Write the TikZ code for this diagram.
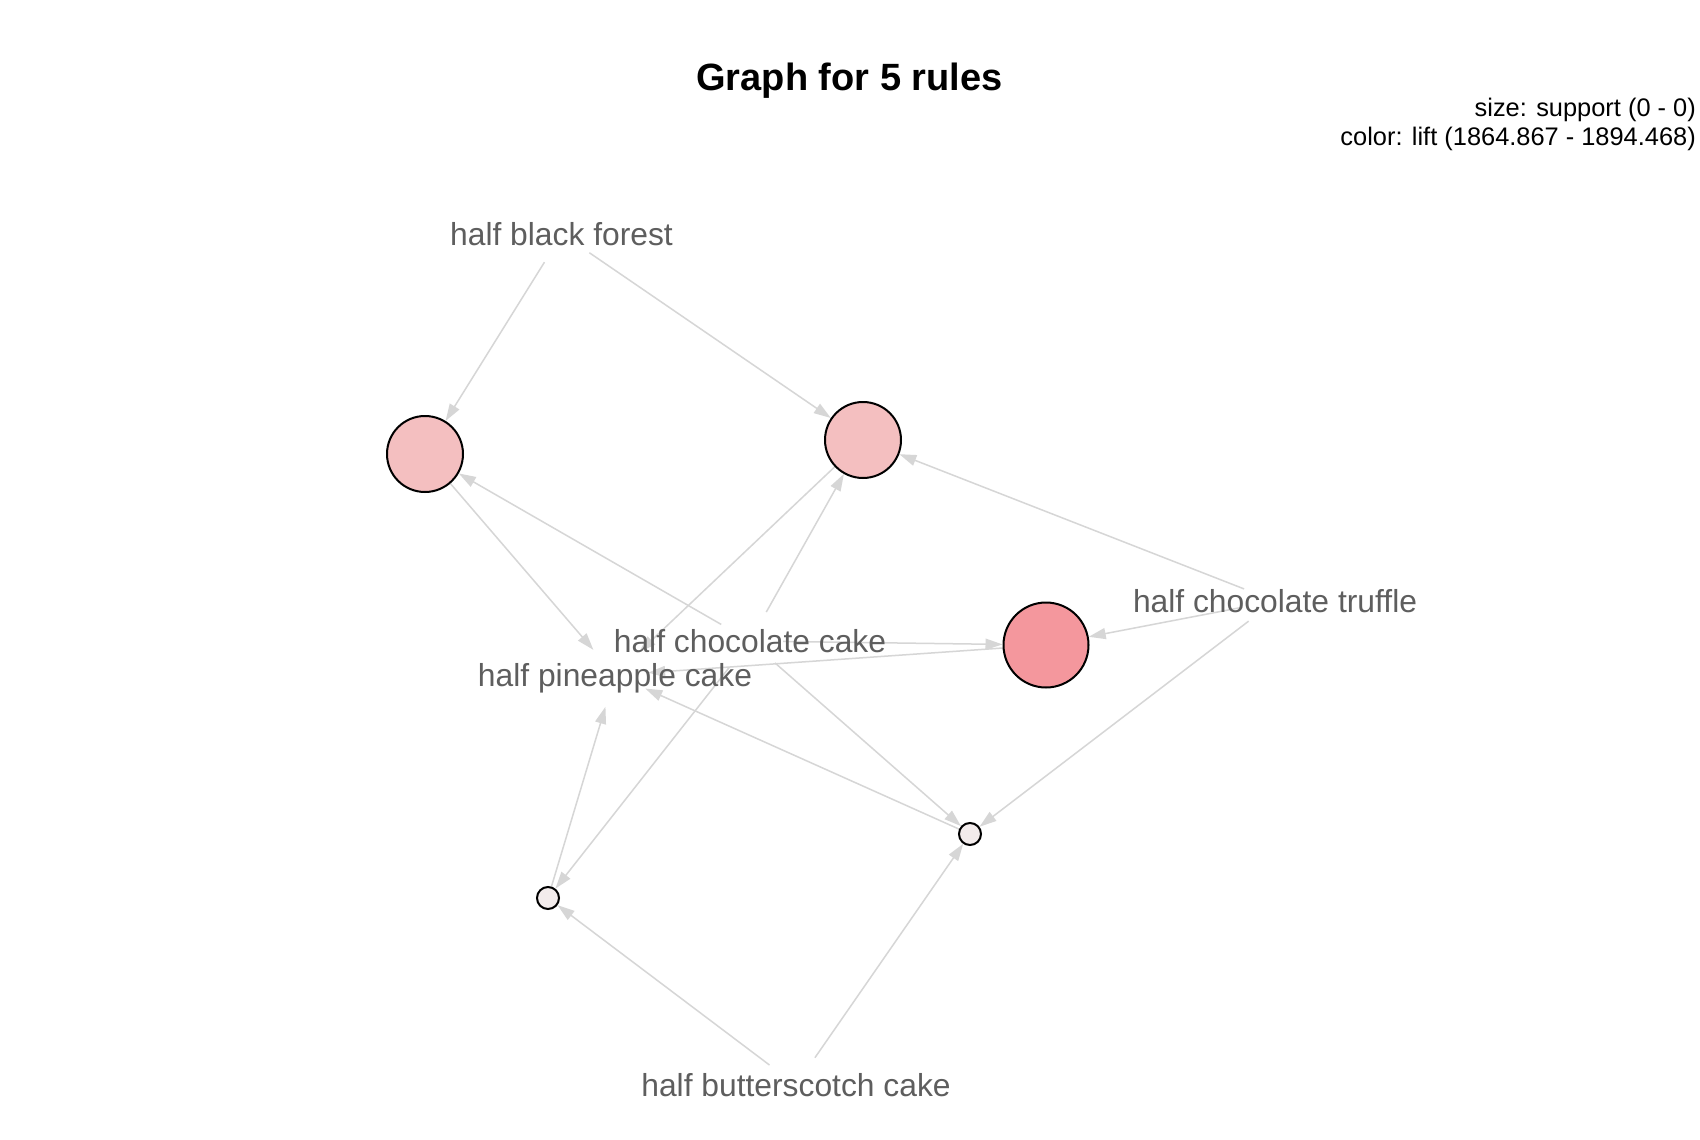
\documentclass[tikz,border=0pt]{standalone}
\usepackage{fontspec}
\setmainfont{Liberation Sans}
\usetikzlibrary{arrows.meta}
\definecolor{edgec}{HTML}{D6D6D6}
\definecolor{labc}{HTML}{5E5E5E}
\definecolor{rlow}{HTML}{F4BFC0}
\definecolor{rhigh}{HTML}{F4979D}
\definecolor{rsmall}{HTML}{F3ECEC}
\pgfdeclarelayer{edgelayer}
\pgfsetlayers{edgelayer,main}
\begin{document}
\begin{tikzpicture}[x=1pt,y=-1pt,
  itemv/.style={circle,minimum size=66pt,inner sep=0pt,draw=none},
  rulev/.style={circle,draw=black,line width=2pt,inner sep=0pt},
  lab/.style={text=labc,font=\fontsize{31.8}{36}\selectfont,anchor=base,inner sep=0pt},
  conn/.style={draw=edgec,line width=1.5pt,-{Triangle[length=17pt,width=11pt,fill=edgec]}}]
\useasboundingbox (0,0) rectangle (1700,1140);

% title and legend
\node[anchor=base,inner sep=0pt,font=\fontsize{38}{44}\selectfont\bfseries] (title) at (849.5,91) {Graph for 5 rules};
\node[anchor=base east,inner sep=0pt,font=\fontsize{25.4}{30}\selectfont] (leg1) at (1696,116) {size: support (0 - 0)};
\node[anchor=base east,inner sep=0pt,font=\fontsize{25.4}{30}\selectfont] (leg2) at (1696,145) {color: lift (1864.867 - 1894.468)};

% item vertices (invisible)
\node[itemv] (bf) at (562,234) {};
\node[itemv] (cc) at (750,641) {};
\node[itemv] (pa) at (615,675) {};
\node[itemv] (ct) at (1275,601) {};
\node[itemv] (bs) at (796,1085) {};

% rule vertices
\node[rulev,minimum size=76pt,fill=rlow] (r1) at (425,454) {};
\node[rulev,minimum size=76pt,fill=rlow] (r2) at (863,440) {};
\node[rulev,minimum size=85pt,fill=rhigh] (r3) at (1046,645) {};
\node[rulev,minimum size=22pt,fill=rsmall] (r4) at (970,834) {};
\node[rulev,minimum size=22pt,fill=rsmall] (r5) at (548,898) {};

% connectors
\begin{pgfonlayer}{edgelayer}
\fill[white] (0,0) rectangle (1700,1140);
\draw[conn] (bf) -- (r1);
\draw[conn] (bf) -- (r2);
\draw[conn] (cc) -- (r1);
\draw[conn] (cc) -- (r2);
\draw[conn] (cc) -- (r3);
\draw[conn] (cc) -- (r4);
\draw[conn] (cc) -- (r5);
\draw[conn] (ct) -- (r2);
\draw[conn] (ct) -- (r3);
\draw[conn] (ct) -- (r4);
\draw[conn] (bs) -- (r4);
\draw[conn] (bs) -- (r5);
\draw[conn] (r1) -- (pa);
\draw[conn] (r2) -- (pa);
\draw[conn] (r3) -- (pa);
\draw[conn] (r4) -- (pa);
\draw[conn] (r5) -- (pa);
\end{pgfonlayer}

% item labels
\node[lab] (bft) at (561.5,245.5) {half black forest};
\node[lab] (cct) at (750,652) {half chocolate cake};
\node[lab] (pat) at (615,686.5) {half pineapple cake};
\node[lab] (ctt) at (1275,612) {half chocolate truffle};
\node[lab] (bst) at (796,1096.5) {half butterscotch cake};
\end{tikzpicture}
\end{document}
